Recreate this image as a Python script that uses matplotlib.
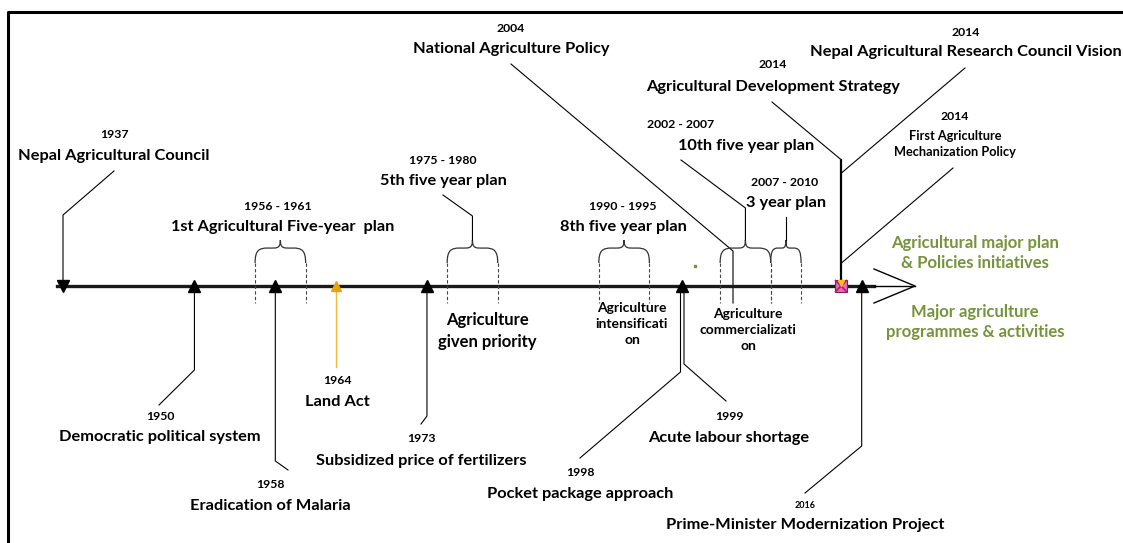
import numpy as np
import matplotlib.pyplot as plt
from matplotlib.path import Path
from matplotlib.patches import PathPatch

plt.rcParams['font.family'] = ['Lato', 'DejaVu Sans']

# ---- data ----
# events marked on the line
event_years = [1937, 1950, 1958, 1964, 1973, 1998, 1999, 2014, 2016]
event_names = ['Nepal Agricultural Council', 'Democratic political system',
               'Eradication of Malaria', 'Land Act', 'Subsidized price of fertilizers',
               'Pocket package approach', 'Acute labour shortage',
               'Agricultural Development Strategy', 'Prime-Minister Modernization Project']
# five year plans (braces)
plan_start = [1956, 1975, 1990, 2002, 2007]
plan_end = [1961, 1980, 1995, 2007, 2010]
plan_names = ['1st Agricultural Five-year  plan', '5th five year plan',
              '8th five year plan', '10th five year plan', '3 year plan']
plan_notes = ['', 'Agriculture\ngiven priority', 'Agriculture\nintensificati\non',
              'Agriculture\ncommercializati\non', '']
# policies pointing at the 2014 point
policy_years = [2004, 2014, 2014]
policy_names = ['National Agriculture Policy', 'Nepal Agricultural Research Council Vision',
                'First Agriculture\nMechanization Policy']

green = '#77933C'
FS = 11.8   # main labels
FY = 8.8    # year labels

fig = plt.figure(figsize=(11.23, 5.43), dpi=100)
ax = fig.add_axes([0, 0, 1, 1])
# x in years, y in pixel rows
k = 10.11
ax.set_xlim(1937 - 63 / k, 1937 + (1123 - 63) / k)
ax.set_ylim(543, 0)
ax.axis('off')

def X(px):
    return 1937 + (px - 63) / k

Y0 = 286  # timeline row

# frame
ax.plot([X(8), X(8), X(1123)], [543, 12, 12], color='black', lw=2.2, solid_capstyle='butt')

# timeline and arrow
ax.plot([X(57), X(874)], [Y0, Y0], color='#1a1a1a', lw=2.4, zorder=2)
ax.plot([X(874), X(915)], [Y0, Y0], color='black', lw=1.0)
ax.plot([X(874), X(915), X(874)], [269, Y0, 303], color='black', lw=1.0)

def lead(xs, ys, color='black', lw=0.8):
    ax.plot(xs, ys, color=color, lw=lw, zorder=1)

def title(x, y1, y2, year, name, fs1=FY, fs2=FS, color='black', ls=1.1):
    ax.text(x, y1, year, ha='center', va='center', fontsize=fs1, fontweight='bold', color=color)
    ax.text(x, y2, name, ha='center', va='center', fontsize=fs2, fontweight='bold',
            color=color, linespacing=ls)

# 1937
e = event_years
ax.plot(e[0], Y0, marker='v', ms=9, color='black', zorder=3)
lead([X(114), e[0], e[0]], [171, 215, Y0 - 4])
title(X(114), 134, 156, '1937', event_names[0])

# 1950
ax.plot(e[1], Y0, marker='^', ms=9, color='black', zorder=3)
lead([e[1], e[1], X(159)], [Y0, 370, 405])
title(X(160), 417, 437, '1950', event_names[1])

# 1958
ax.plot(e[2], Y0, marker='^', ms=9, color='black', zorder=3)
lead([e[2], e[2], X(288)], [Y0, 461, 470])
title(X(270), 485, 506, '1958', event_names[2])

# 1964
ax.plot(e[3], Y0, marker='^', ms=7, color='#E5A50F', zorder=3)
lead([e[3], e[3]], [Y0, 367], color='#F2B943', lw=1.0)
title(X(337), 381, 402, '1964', event_names[3])

# 1973
ax.plot(e[4], Y0, marker='^', ms=9, color='black', zorder=3)
lead([e[4], e[4], X(421)], [Y0, 416, 424])
title(X(421), 439, 461, '1973', event_names[4])

# 1998 / 1999 (double stem)
ax.plot(X(682), Y0, marker='^', ms=9, color='black', zorder=3)
lead([X(680.5), X(680.5), X(580)], [Y0, 372, 458])
lead([X(684), X(684), X(726)], [Y0, 364, 401])
title(X(580), 472, 494, '1998', event_names[5])
title(X(729), 417, 438, '1999', event_names[6])

# 2016
ax.plot(e[8], Y0, marker='^', ms=9, color='black', zorder=3)
lead([e[8], e[8], X(805)], [Y0, 446, 493])
title(X(805), 506, 525, '2016', event_names[8], fs1=6.5)

# 2014 node
x14 = e[7]
ax.plot(x14, Y0, marker='s', ms=8, mfc='#E070B0', mec='#8B1A5A', mew=0.8, zorder=4)
ax.plot(x14, Y0, marker='x', ms=8, color='#C0107A', mew=1.2, zorder=5)
ax.plot(x14, Y0 - 3, marker='v', ms=4, color='#F0C020', zorder=6)
lead([x14, x14], [160, Y0 - 5], lw=1.6)
lead([X(772), x14], [102, 160])
title(X(773), 65, 87, '2014', event_names[7])
lead([X(965), x14], [68, 173])
title(X(966), 32, 52, '2014', policy_names[1])
lead([X(953), x14], [168, 263])
title(X(955), 116, 144, '2014', policy_names[2], fs2=9.2, ls=1.5)

# 2004 policy
lead([X(511), X(733), X(733)], [64, 251, 303])
title(X(511), 29, 49, '2004', policy_names[0])

# plan braces
def brace(x0, x1, yb=263, yt=240):
    w = (x1 - x0) / 2
    xm = x0 + w
    h = yb - yt
    verts = [(x0, yb),
             (x0, yb - 0.55 * h), (x0 + 0.15 * w, yb - 0.65 * h), (x0 + 0.5 * w, yb - 0.65 * h),
             (x0 + 0.85 * w, yb - 0.65 * h), (xm, yb - 0.6 * h), (xm, yt),
             (xm, yb - 0.6 * h), (x1 - 0.85 * w, yb - 0.65 * h), (x1 - 0.5 * w, yb - 0.65 * h),
             (x1 - 0.15 * w, yb - 0.65 * h), (x1, yb - 0.55 * h), (x1, yb)]
    codes = [Path.MOVETO] + [Path.CURVE4] * 12
    ax.add_patch(PathPatch(Path(verts, codes), fill=False, lw=0.9, ec='#333333'))
    for xx in (x0, x1):
        ax.plot([xx, xx], [yb, 303], color='#444444', lw=0.8, ls=(0, (3, 2)))
    return xm

plan_title = [(X(278), 206, X(283), 227), (X(443), 160, X(443), 181),
              (X(623), 206, X(623), 227), (X(681), 124, X(746), 146),
              (X(785), 182, X(786), 203)]
note_pos = [None, (X(487), 331, 12, 1.4), (X(632), 324, 10, 1.42), (X(748), 330, 10, 1.42), None]
for i in range(len(plan_start)):
    xm = brace(plan_start[i], plan_end[i])
    yx, yy, nx, ny = plan_title[i]
    ax.text(yx, yy, '%d - %d' % (plan_start[i], plan_end[i]), ha='center', va='center',
            fontsize=FY, fontweight='bold')
    ax.text(nx, ny, plan_names[i], ha='center', va='center', fontsize=FS, fontweight='bold')
    if note_pos[i]:
        px_, py_, fs, ls = note_pos[i]
        ax.text(px_, py_, plan_notes[i], ha='center', va='center', fontsize=fs,
                fontweight='bold', linespacing=ls)

# brace leaders
xm5 = (plan_start[1] + plan_end[1]) / 2
lead([X(443), xm5, xm5], [195, 216, 240])
xm10 = (plan_start[3] + plan_end[3]) / 2
lead([X(681), xm10, xm10], [160, 208, 240])
xm3 = (plan_start[4] + plan_end[4]) / 2
lead([xm3, xm3], [217, 240])

# stray mark
ax.plot(X(695), 266, marker='s', ms=1.5, color=green)

# legend text
ax.text(X(975), 253, 'Agricultural major plan\n& Policies initiatives', ha='center', va='center',
        fontsize=12, fontweight='bold', color=green, linespacing=1.35)
ax.text(X(975), 322, 'Major agriculture\nprogrammes & activities', ha='center', va='center',
        fontsize=12, fontweight='bold', color=green, linespacing=1.35)

plt.savefig('out.png', dpi=100)
